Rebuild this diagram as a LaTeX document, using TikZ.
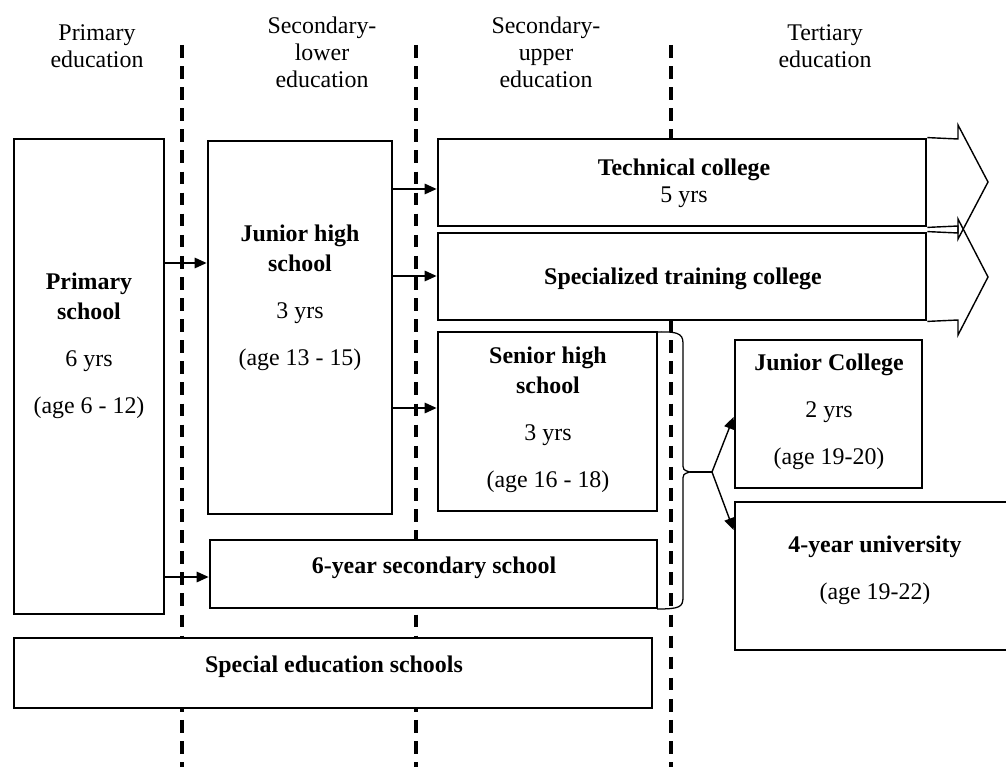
\documentclass[tikz,border=0pt]{standalone}
\usepackage{fontspec}
\setmainfont{Liberation Serif}
\usetikzlibrary{arrows.meta,fit}

\tikzset{
  box/.style={draw, line width=2pt, fill=white, inner sep=0pt},
  txt/.style={align=center, anchor=base, inner sep=0pt, font=\fontsize{17}{21.3}\selectfont},
  head/.style={align=center, anchor=base, inner sep=0pt, font=\fontsize{17}{19.2}\selectfont},
  stage/.style={line width=2.2pt, dash pattern=on 9pt off 6pt},
  arr/.style={-{Triangle[length=8.5pt,width=7.5pt]}, line width=1pt},
  outl/.style={line width=1pt, line join=miter},
}

\begin{document}
\begin{tikzpicture}[x=0.025cm, y=-0.025cm]
  \useasboundingbox (0,0) rectangle (1006,767);
  \clip (0,0) rectangle (1006,767);

  \node[head] (h1) at (97,68) {Primary\\education};
  \node[head] (h2) at (322,88) {Secondary-\\lower\\education};
  \node[head] (h3) at (546,88) {Secondary-\\upper\\education};
  \node[head] (h4) at (825,68) {Tertiary\\education};

  \draw[stage] (182,45) -- (182,767);
  \draw[stage] (416,45) -- (416,767);
  \draw[stage] (671,45) -- (671,767);

  \node[box, fit={(14,139) (164,614)}] (prim) {};
  \node[box, fit={(208,141) (392,514)}] (jhs) {};
  \node[box, fit={(438,139) (926,226)}] (tech) {};
  \node[box, fit={(438,233) (926,320)}] (spec) {};
  \node[box, fit={(438,332) (657,511)}] (shs) {};
  \node[box, fit={(210,540) (657,608)}] (six) {};
  \node[box, fit={(14,638) (652,708)}] (sped) {};
  \node[box, fit={(735,340) (922,488)}] (jc) {};
  \node[box, fit={(735,502) (1015,650)}] (univ) {};

  \draw[outl] (tech.north east) -- (958,139) -- (958,125) -- (988,182) -- (958,239) -- (958,226) -- (tech.south east);
  \draw[outl] (spec.north east) -- (958,233) -- (958,219) -- (988,277) -- (958,335) -- (958,320) -- (spec.south east);

  \node[txt] (prim-t) at (89,413) {\textbf{Primary}\\\textbf{school}\\[12pt]6 yrs\\[12pt](age 6 - 12)};
  \node[txt] (jhs-t) at (300,365) {\textbf{Junior high}\\\textbf{school}\\[12pt]3 yrs\\[12pt](age 13 - 15)};
  \node[txt] (tech-t) at (684,203) {\textbf{Technical college}\\[-2pt]5 yrs};
  \node[txt] (spec-t) at (683,285) {\textbf{Specialized training college}};
  \node[txt] (shs-t) at (548,487) {\textbf{Senior high}\\\textbf{school}\\[12pt]3 yrs\\[12pt](age 16 - 18)};
  \node[txt] (six-t) at (434,573) {\textbf{6-year secondary school}};
  \node[txt] (sped-t) at (334,672) {\textbf{Special education schools}};
  \node[txt] (jc-t) at (829,464) {\textbf{Junior College}\\[12pt]2 yrs\\[12pt](age 19-20)};
  \node[txt] (univ-t) at (875,599) {\textbf{4-year university}\\[12pt](age 19-22)};

  \draw[arr] (prim.east |- 0,263) -- (jhs.west |- 0,263);
  \draw[arr] (prim.east |- 0,577) -- (six.west |- 0,577);
  \draw[arr] (jhs.east |- 0,189) -- (tech.west |- 0,189);
  \draw[arr] (jhs.east |- 0,276) -- (spec.west |- 0,276);
  \draw[arr] (jhs.east |- 0,408) -- (shs.west |- 0,408);

  \coordinate (fork) at (712,472);
  \draw[line width=0.9pt] (657,332) .. controls (683,331) and (683,336) .. (683,346) -- (683,462)
    .. controls (683,470) .. (690,472) .. controls (683,474) .. (683,482) -- (683,597)
    .. controls (683,607) and (680,609) .. (657,609);
  \draw[line width=1pt] (690,472) -- (fork);
  \draw[arr] (fork) -- (jc.west |- 0,417);
  \draw[arr] (fork) -- (univ.west |- 0,530);
\end{tikzpicture}
\end{document}
